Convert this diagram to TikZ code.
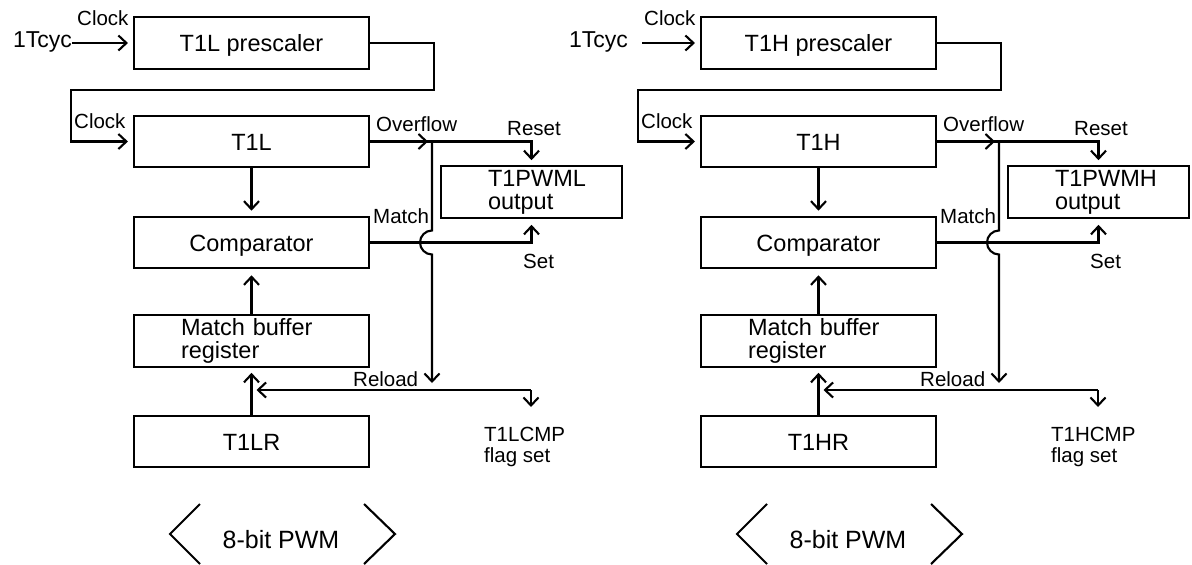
\documentclass[tikz,border=0pt]{standalone}
\usepackage{fontspec}
\setmainfont{Liberation Sans}
\usetikzlibrary{arrows.meta}
\newcommand{\mainf}{\fontsize{23.5}{23}\selectfont}
\newcommand{\lblf}{\fontsize{20.5}{18}\selectfont}
\newcommand{\pwmhalf}[4]{%
\begin{scope}[xshift=#2pt]
 % input clock
 \node[cyctxt, anchor=base east] (cyc#1) at (#3,47.5) {1Tcyc};
 \node[box] (pre#1) at (251.5,43) {T1#1 prescaler};
 \node[lbl, anchor=base west] (clka#1) at (77,25) {Clock};
 \coordinate (cin#1) at (#4,43);
 \draw[arr, shorten >=5pt] (cin#1) -- (cin#1 -| pre#1.west);
 % timer
 \node[box] (tmr#1) at (251.5,141.5) {T1#1};
 \node[lbl, anchor=base west] (clkb#1) at (74,128) {Clock};
 \coordinate (pa#1) at (434,43);
 \coordinate (pb#1) at (71,90);
 \draw[arr, shorten >=5pt] (pre#1.east) -- (pa#1) |- (pb#1) |- (tmr#1.west);
 % overflow / reset
 \coordinate (ov#1) at (432,141.5);
 \node[box2, pwm] (pwm#1) at (531.5,192) {T1PWM#1\\output};
 \draw[arr, shorten >=5pt] (tmr#1.east) -- (ov#1) -| (pwm#1.north);
 \draw[arr] (tmr#1.east) -- ([xshift=-4pt]ov#1);
 \node[lbl, anchor=base west] (ovl#1) at (376,131) {Overflow};
 \node[lbl, anchor=base west] (rst#1) at (507,135) {Reset};
 % comparator
 \node[box] (cmp#1) at (251.5,242.5) {Comparator};
 \draw[arr, shorten >=5pt] (tmr#1.south) -- (cmp#1.north);
 \draw[arr, shorten >=6pt] (cmp#1.east) -| (pwm#1.south);
 \node[lbl, anchor=base west] (mt#1) at (373,223) {Match};
 \node[lbl, anchor=base west] (st#1) at (523,268) {Set};
 % overflow line with hop
 \coordinate (hp#1) at (ov#1 |- cmp#1.east);
 \coordinate (oe#1) at (432,383);
 \draw[arr] (ov#1) -- ([yshift=12pt]hp#1) arc[start angle=90, end angle=270, radius=12pt] -- (oe#1);
 % match buffer register
 \node[box2, mb] (mbr#1) at (251.5,341) {Match buffer\\register};
 \draw[arr, shorten >=6pt] (mbr#1.north) -- (cmp#1.south);
 % reload register
 \node[box] (rr#1) at (251.5,441.5) {T1#1R};
 \draw[arr, shorten >=5pt] (rr#1.north) -- (mbr#1.south);
 \coordinate (rl#1) at (531,390);
 \draw[arr, shorten >=5pt] (rl#1) -- (rl#1 -| rr#1.north);
 \node[lbl, anchor=base west] (rld#1) at (353,386) {Reload};
 \node[lbl, anchor=north west, align=left, font=\fontsize{20.5}{21}\selectfont] (flg#1) at (484,427) {T1#1CMP\\flag set};
 \draw[arr, shorten >=20pt] (rl#1) -- (rl#1 |- flg#1.north);
 % mode
 \node[pwmtxt, anchor=base] (bit#1) at (281,548) {8-bit PWM};
 \draw[wire] (200,504) -- (170,534) -- (200,564);
 \draw[wire] (364,504) -- (395,534) -- (364,564);
\end{scope}}
\begin{document}
\begin{tikzpicture}[x=1pt,y=-1pt,
  wire/.style={line width=2.1pt},
  arr/.style={wire, -{Straight Barb[length=8pt,width=15pt,line width=2.1pt]}},
  box2/.style={draw, line width=2.1pt, inner ysep=0pt, minimum height=51.5pt, font=\mainf},
  box/.style={box2, inner xsep=0pt, minimum width=235pt, text height=17pt, text depth=0pt},
  mb/.style={align=left, text width=141pt, inner xsep=47pt, minimum width=235pt},
  pwm/.style={align=left, text width=87pt, inner xsep=47pt, minimum width=181pt},
  lbl/.style={inner sep=0pt, font=\lblf},
  cyctxt/.style={inner sep=0pt, font=\fontsize{23}{24}\selectfont},
  pwmtxt/.style={inner sep=0pt, font=\fontsize{25}{26}\selectfont},
]
\useasboundingbox (0,0) rectangle (1192,565);
\pwmhalf{L}{0}{72}{72}
\pwmhalf{H}{567}{61}{75}
\end{tikzpicture}
\end{document}
